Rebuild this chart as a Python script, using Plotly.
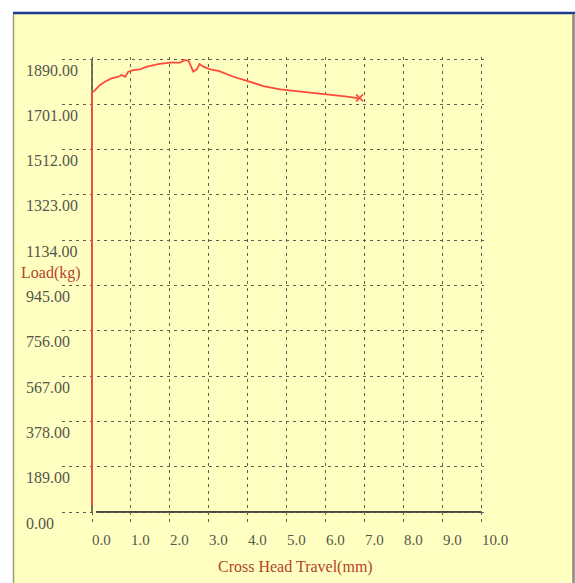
import plotly.graph_objects as go

# ---- data ----
travel = [0, 0, 0.02, 0.08, 0.2, 0.33, 0.5, 0.6, 0.68, 0.76, 0.85, 0.93, 1.06, 1.23, 1.41, 1.7, 2.0,
          2.26, 2.39, 2.48, 2.6, 2.69, 2.76, 2.86, 3.03, 3.25, 3.42, 3.63, 3.98, 4.4, 4.83,
          5.26, 5.69, 6.12, 6.55, 6.85]
load = [25, 1750, 1753, 1760, 1781, 1795, 1809, 1812, 1816, 1823, 1816, 1837, 1844, 1847, 1858, 1869, 1875,
        1875, 1886, 1882, 1837, 1847, 1869, 1858, 1847, 1840, 1830, 1816, 1799, 1777, 1763,
        1756, 1749, 1740, 1733, 1726]
end_travel = [6.87]
end_load = [1728]

x_ticks = [0, 1, 2, 3, 4, 5, 6, 7, 8, 9, 10]
x_tick_text = ["0.0", "1.0", "2.0", "3.0", "4.0", "5.0", "6.0", "7.0", "8.0", "9.0", "10.0"]
y_ticks = [0, 189, 378, 567, 756, 945, 1134, 1323, 1512, 1701, 1890]
y_tick_text = ["0.00", "189.00", "378.00", "567.00", "756.00", "945.00", "1134.00",
               "1323.00", "1512.00", "1701.00", "1890.00"]

W, H = 575, 583
L, R, T, B = 62, 91, 57, 60
pw, ph = W - L - R, H - T - B

def px_to_paper_x(px):
    return (px - L) / pw

def py_to_paper_y(py):
    return (H - B - py) / ph

FONT = "Liberation Serif"
TICK_COLOR = "#56564c"
TITLE_COLOR = "#b4432c"
LINE_RED = "#ff4a3a"
GRID = "#5e5e56"

fig = go.Figure()
fig.add_trace(go.Scatter(x=travel, y=load, mode="lines",
                         line=dict(color=LINE_RED, width=1.8), hoverinfo="skip"))
fig.add_trace(go.Scatter(x=end_travel, y=end_load, mode="markers",
                         marker=dict(symbol="x-thin", size=7, line=dict(color=LINE_RED, width=1.6)),
                         hoverinfo="skip"))

ppu_x = (481.5 - 92) / 10
x_min = -(92 - L) / ppu_x
x_max = 10 + (L + pw - 481.5) / ppu_x
ppu_y = (512 - 59) / 1890
y_min = -((H - B) - 512) / ppu_y
y_max = 1890 + (59 - T) / ppu_y

fig.update_layout(
    width=W, height=H,
    margin=dict(l=L, r=R, t=T, b=B),
    paper_bgcolor="white",
    plot_bgcolor="rgba(0,0,0,0)",
    showlegend=False,
    xaxis=dict(range=[x_min, x_max], tickvals=x_ticks, showticklabels=False,
               showgrid=True, gridcolor=GRID, griddash="3px,4px", gridwidth=1.4,
               zeroline=False, showline=False, ticks=""),
    yaxis=dict(range=[y_min, y_max], tickvals=y_ticks, showticklabels=False,
               showgrid=True, gridcolor=GRID, griddash="3px,4px", gridwidth=1.4,
               zeroline=False, showline=False, ticks=""),
)

shapes = []
shapes.append(dict(type="rect", xref="paper", yref="paper",
                   x0=px_to_paper_x(13), x1=px_to_paper_x(574),
                   y0=py_to_paper_y(590), y1=py_to_paper_y(13),
                   fillcolor="#ffffc2", line=dict(width=0), layer="below"))
shapes.append(dict(type="line", xref="paper", yref="paper",
                   x0=px_to_paper_x(13), x1=px_to_paper_x(576),
                   y0=py_to_paper_y(13), y1=py_to_paper_y(13),
                   line=dict(color="#1b3d8f", width=2.5), layer="below"))
shapes.append(dict(type="line", xref="paper", yref="paper",
                   x0=px_to_paper_x(13.5), x1=px_to_paper_x(13.5),
                   y0=py_to_paper_y(14), y1=py_to_paper_y(590),
                   line=dict(color="#9a9a7a", width=1.5), layer="below"))
shapes.append(dict(type="line", xref="paper", yref="paper",
                   x0=px_to_paper_x(573.5), x1=px_to_paper_x(573.5),
                   y0=py_to_paper_y(14), y1=py_to_paper_y(590),
                   line=dict(color="#8a8a80", width=2.5), layer="below"))
shapes.append(dict(type="line", xref="x", yref="y", x0=0.1, x1=10, y0=0, y1=0,
                   line=dict(color="#4a4a40", width=2), layer="below"))
shapes.append(dict(type="line", xref="x", yref="y", x0=0, x1=0, y0=0, y1=1890,
                   line=dict(color="#4a4a40", width=1.5), layer="below"))
fig.update_layout(shapes=shapes)

ann = []
for v, t in zip(y_ticks, y_tick_text):
    ann.append(dict(x=px_to_paper_x(24), xref="paper", y=v, yref="y", text=t,
                    xanchor="left", yanchor="middle", yshift=-11, showarrow=False,
                    font=dict(family=FONT, size=16, color=TICK_COLOR)))
for v, t in zip(x_ticks, x_tick_text):
    ann.append(dict(x=v, xref="x", y=0, yref="y", text=t,
                    xanchor="left", yanchor="middle", xshift=-2, yshift=-28, showarrow=False,
                    font=dict(family=FONT, size=15, color=TICK_COLOR)))
ann.append(dict(x=px_to_paper_x(19), xref="paper", y=py_to_paper_y(273), yref="paper",
                text="Load(kg)", xanchor="left", yanchor="middle", showarrow=False,
                font=dict(family=FONT, size=16, color=TITLE_COLOR)))
ann.append(dict(x=px_to_paper_x(295), xref="paper", y=py_to_paper_y(567), yref="paper",
                text="Cross Head Travel(mm)", xanchor="center", yanchor="middle", showarrow=False,
                font=dict(family=FONT, size=16, color=TITLE_COLOR)))
fig.update_layout(annotations=ann)

fig.write_html("out.html", config={"displayModeBar": False},
               post_script="document.body.style.margin='0px';document.body.style.padding='0px';")
